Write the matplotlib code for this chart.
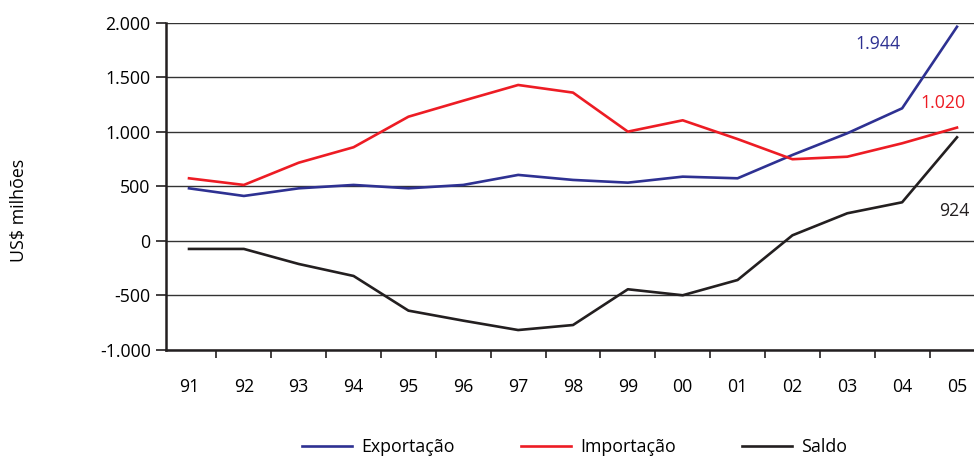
import matplotlib.pyplot as plt

# dados
anos = ["91", "92", "93", "94", "95", "96", "97", "98", "99", "00", "01", "02", "03", "04", "05"]
exportacao = [483, 413, 483, 514, 483, 514, 606, 560, 535, 590, 575, 789, 988, 1217, 1965]
importacao = [575, 514, 718, 860, 1140, 1287, 1431, 1361, 1003, 1107, 935, 750, 773, 896, 1040]
saldo = [-73, -73, -211, -321, -639, -731, -817, -771, -443, -498, -358, 52, 254, 355, 951]
yticks = [-1000, -500, 0, 500, 1000, 1500, 2000]
ytick_labels = ["-1.000", "-500", "0", "500", "1.000", "1.500", "2.000"]

plt.rcParams["font.family"] = ["Open Sans", "DejaVu Sans"]
fs = 12.8

fig = plt.figure(figsize=(9.74, 4.59), dpi=100)
ax = fig.add_axes([0.1704, 0.2375, 0.8296, 0.7125])

x = list(range(len(anos)))
azul, vermelho, preto = "#2e3192", "#ed1c24", "#231f20"

for v in yticks:
    ax.axhline(v, color="#333333", lw=1.0, zorder=1)

ax.plot(x, exportacao, color=azul, lw=1.9, label="Exportação", zorder=3)
ax.plot(x, importacao, color=vermelho, lw=1.9, label="Importação", zorder=3)
ax.plot(x, saldo, color=preto, lw=1.9, label="Saldo", zorder=3)

# rótulos dos valores finais
ax.text(12.55, 1807, "1.944", color=azul, fontsize=fs, ha="center", va="center")
ax.text(13.74, 1266, "1.020", color=vermelho, fontsize=fs, ha="center", va="center")
ax.text(13.96, 275, "924", color=preto, fontsize=fs, ha="center", va="center")

ax.set_xlim(-0.42, 14.31)
ax.set_ylim(-1000, 2000)
ax.set_yticks(yticks)
ax.set_yticklabels(ytick_labels, fontsize=fs)
ax.tick_params(axis="y", length=7, width=1.2, color=preto, pad=4)

# marcas entre categorias, rótulos no centro
ax.set_xticks([i + 0.5 for i in x[:-1]])
ax.set_xticklabels([])
ax.set_xticks(x, minor=True)
ax.set_xticklabels(anos, minor=True, fontsize=fs)
ax.tick_params(axis="x", which="major", length=6, width=1.2, color=preto)
ax.tick_params(axis="x", which="minor", length=0, pad=20)

for s in ["top", "right"]:
    ax.spines[s].set_visible(False)
for s in ["left", "bottom"]:
    ax.spines[s].set_linewidth(1.8)
    ax.spines[s].set_color(preto)

fig.text(0.02, 0.5425, "US$ milhões", rotation=90, fontsize=fs, ha="center", va="center")

fig.legend(loc="center", bbox_to_anchor=(0.59, 0.026), ncol=3, frameon=False,
           fontsize=fs, handlelength=2.8, columnspacing=3.7, handletextpad=0.55)

fig.savefig("out.png", dpi=100)
